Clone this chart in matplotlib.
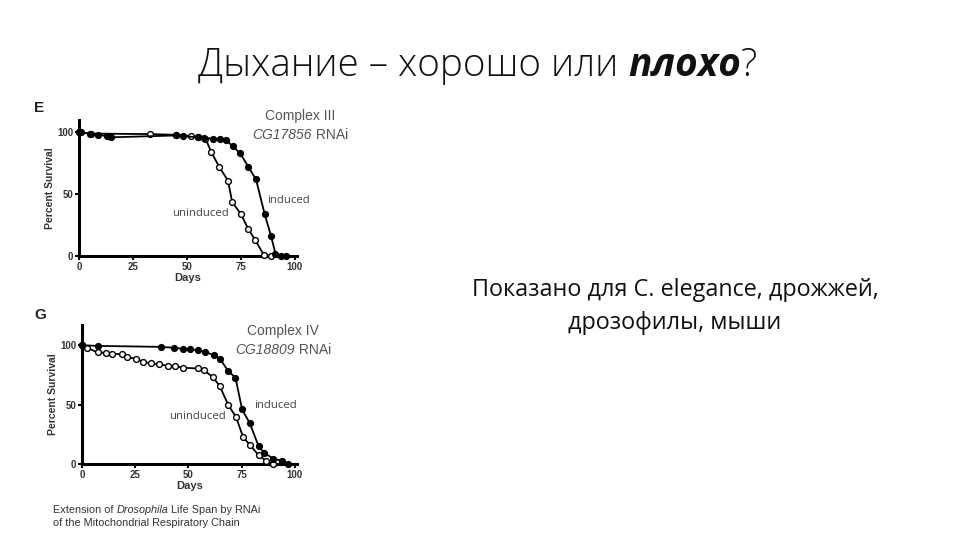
import matplotlib
matplotlib.use("Agg")
import matplotlib.pyplot as plt

# Panel E - Complex III CG17856 RNAi
e_ind_days = [0, 1, 5, 9, 13, 15, 45, 48, 55, 58, 62, 65.5, 68, 71.3, 74.7, 78.5, 82, 86, 89, 91, 93.6, 96]
e_ind_surv = [100, 100, 99, 98, 97, 96, 97.5, 97, 96, 95.5, 95, 94.5, 94, 88.6, 83, 72, 62, 34, 16, 2, 0, 0]
e_un_days = [0, 5.7, 33, 45, 52, 55, 58.6, 61.3, 65, 69, 71, 75, 78.5, 81.6, 85.6, 88.8]
e_un_surv = [100, 99, 98.6, 98, 97, 96, 95, 84, 72, 61, 43.5, 34, 21.6, 13, 1, 0]

# Panel G - Complex IV CG18809 RNAi
g_ind_days = [0, 7.4, 36.9, 43.4, 47.3, 50.7, 54.3, 57.8, 62, 64.7, 68.7, 72.1, 75.2, 78.8, 83, 85.7, 89.9, 93.8, 96.6]
g_ind_surv = [100, 99.4, 98.6, 97.8, 97, 96.4, 95.8, 94.4, 91.6, 88.8, 78.2, 72.6, 46, 34.4, 14.8, 9.2, 4.5, 2.8, 0]
g_un_days = [0, 2.3, 7.4, 11.3, 14, 18.6, 21.2, 25.3, 28.7, 32.6, 36.4, 40.3, 43.9, 47.6, 54.3, 57.4,
             61.6, 64.7, 68.7, 72.4, 75.7, 79.1, 83, 86.4, 89.9]
g_un_surv = [100, 97.8, 93.9, 93.6, 93, 92.2, 89.7, 88.8, 86, 84.6, 83.8, 82.7, 82.4, 81, 80.4, 78.8,
             72.9, 65.6, 49.7, 39.4, 22.6, 15.6, 7.3, 2.8, 0]

x_ticks = [0, 25, 50, 75, 100]
y_ticks = [0, 50, 100]

fig = plt.figure(figsize=(9.6, 5.4), dpi=100)
fig.patch.set_facecolor("white")

W, H = 960.0, 540.0
PF = 'Liberation Sans'


def mixed_line(x_px, y_px, parts, center=False, **kw):
    # parts: list of (text, extra kwargs); drawn one after another
    fig.canvas.draw()
    x = x_px
    arts = []
    for txt, extra in parts:
        a = fig.text(x / W, 1 - y_px / H, txt, ha='left', va='center', **kw, **extra)
        x = a.get_window_extent(fig.canvas.get_renderer()).x1
        arts.append(a)
    if center:
        shift = (x - x_px) / 2.0
        for a in arts:
            px, py = a.get_position()
            a.set_x(px - shift / W)
    return arts


def survival_panel(rect, ytop, ind_d, ind_s, un_d, un_s, letter, line1, gene, lab_pos):
    ax = fig.add_axes(rect)
    ax.plot(un_d, un_s, '-o', color='black', lw=1.3, ms=4.2, mfc='white', mec='black',
            mew=1.0, clip_on=False, zorder=3)
    ax.plot(ind_d, ind_s, '-o', color='black', lw=1.3, ms=4.2, mfc='black', mec='black',
            mew=1.0, clip_on=False, zorder=4)
    ax.set_xlim(0, 101)
    ax.set_ylim(0, ytop)
    ax.set_xticks(x_ticks)
    ax.set_yticks(y_ticks)
    ax.tick_params(labelsize=7, width=1.5, length=3, pad=1)
    for lbl in ax.get_xticklabels() + ax.get_yticklabels():
        lbl.set_fontweight('bold')
        lbl.set_family(PF)
        lbl.set_color('#333333')
    for s in ['top', 'right']:
        ax.spines[s].set_visible(False)
    for s in ['left', 'bottom']:
        ax.spines[s].set_linewidth(2.2)
    ax.set_xlabel("Days", fontsize=8, fontweight='bold', labelpad=1, color='#333333', family=PF)
    ax.set_ylabel("Percent Survival", fontsize=7.5, fontweight='bold', labelpad=2,
                  color='#333333', family=PF)
    ax.patch.set_alpha(0)
    # panel letter and legend texts
    fig.text(lab_pos[0] / W, 1 - lab_pos[1] / H, letter, fontsize=11, fontweight='bold',
             ha='left', va='center', color='#222222', family=PF)
    fig.text(lab_pos[2] / W, 1 - lab_pos[3] / H, line1, fontsize=10, ha='center', va='center',
             color='#555555', family=PF)
    mixed_line(lab_pos[2], lab_pos[3] + 19,
               [(gene, {'fontstyle': 'italic'}), (" RNAi", {})],
               center=True, fontsize=10, color='#555555', family=PF)
    ax.text(lab_pos[4], lab_pos[5], "induced", fontsize=8.2, color='#444444', ha='left',
            va='center', family='Open Sans')
    ax.text(lab_pos[6], lab_pos[7], "uninduced", fontsize=8.2, color='#444444', ha='left',
            va='center', family='Open Sans')
    return ax


survival_panel([79 / W, 1 - 256 / H, 218 / W, 136 / H], 110,
               e_ind_days, e_ind_surv, e_un_days, e_un_surv, "E",
               "Complex III", "CG17856",
               (34, 108, 300, 116, 87, 45, 43, 34))
survival_panel([82 / W, 1 - 464 / H, 215 / W, 139 / H], 117,
               g_ind_days, g_ind_surv, g_un_days, g_un_surv, "G",
               "Complex IV", "CG18809",
               (34, 315, 283, 331, 81, 49, 41, 40))

mixed_line(53, 510, [("Extension of ", {}), ("Drosophila", {'fontstyle': 'italic'}),
                     (" Life Span by RNAi", {})],
           fontsize=7.8, color='#333333', family=PF)
fig.text(53 / W, 1 - 523 / H, "of the Mitochondrial Respiratory Chain",
         fontsize=7.8, ha='left', va='center', color='#333333', family=PF)

# title with bold-italic word
TS = 27.8
mixed_line(198, 66, [("Дыхание – хорошо или ", {'fontweight': 'light'}),
                     ("плохо", {'fontweight': 'bold', 'fontstyle': 'italic'}),
                     ("?", {'fontweight': 'light'})],
           fontsize=TS, family='Open Sans', color='#111111')

fig.text(675 / W, 1 - 290 / H, "Показано для C. elegance, дрожжей,", fontsize=16.8,
         family='Open Sans', ha='center', va='center', color='#111111')
fig.text(675 / W, 1 - 323 / H, "дрозофилы, мыши", fontsize=16.8,
         family='Open Sans', ha='center', va='center', color='#111111')

fig.savefig("out.png", dpi=100)
